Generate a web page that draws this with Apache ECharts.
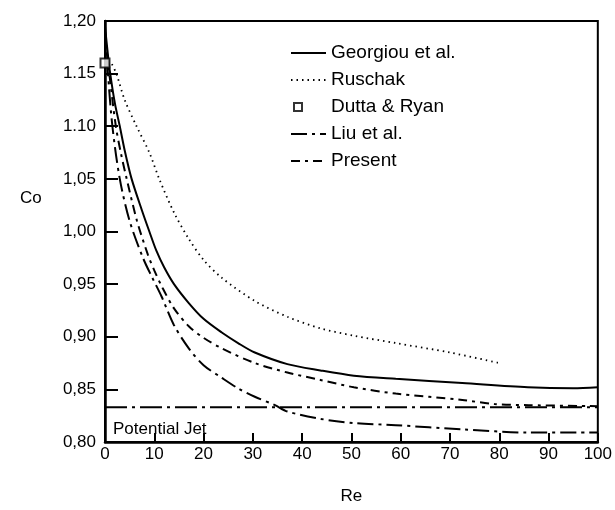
<!DOCTYPE html>
<html>
<head>
<meta charset="utf-8">
<script src="https://cdn.jsdelivr.net/npm/echarts@6/dist/echarts.min.js"></script>
<style>html,body{margin:0;padding:0;background:#fff}#c{width:615px;height:510px}</style>
</head>
<body>
<div id="c"></div>
<script>
// Data
var georgiou = [[0,1.195],[0.5,1.172],[1,1.152],[2,1.122],[3,1.100],[4,1.077],[5.4,1.050],[7.5,1.020],[9,1.000],[10.4,0.982],[12,0.966],[14,0.950],[17,0.932],[20,0.917],[23.7,0.904],[27,0.894],[30.4,0.885],[37,0.874],[43.7,0.868],[50.5,0.863],[59,0.860],[72.5,0.856],[85.8,0.852],[95,0.851],[100,0.852]];
var ruschak = [[1.4,1.159],[2.3,1.150],[4,1.125],[6.4,1.100],[9,1.075],[11,1.050],[14,1.018],[17,0.993],[20,0.973],[23.7,0.956],[30.4,0.934],[37,0.919],[43.7,0.908],[50.5,0.901],[59,0.894],[70,0.885],[80,0.875]];
var duttaRyan = [[0,1.160]];
var liu = [[0,1.190],[0.6,1.150],[1.5,1.100],[3,1.050],[5,1.010],[7.7,0.975],[9.5,0.957],[11.5,0.938],[14,0.911],[17,0.889],[20,0.873],[23.7,0.861],[27,0.851],[30.4,0.843],[34.5,0.835],[37,0.829],[43.7,0.822],[50.5,0.818],[59,0.816],[72.5,0.812],[85.8,0.809],[100,0.809]];
var present = [[0,1.190],[0.5,1.165],[1,1.145],[2.2,1.100],[3.2,1.075],[4.4,1.050],[6.5,1.010],[8.7,0.978],[10,0.963],[11.5,0.948],[14,0.927],[17,0.910],[20,0.899],[23.7,0.889],[30.4,0.875],[37,0.866],[43.7,0.859],[50.5,0.852],[59,0.846],[72.5,0.840],[79,0.836],[86,0.835],[100,0.834]];
var potentialJet = [[0,0.833],[100,0.833]];
var yTickLabels = {'0.8':'0,80','0.85':'0,85','0.9':'0,90','0.95':'0,95','1':'1,00','1.05':'1,05','1.1':'1.10','1.15':'1.15','1.2':'1,20'};
var xTickLabels = ['0','10','20','30','40','50','60','70','80','90','100'];

var FONT = 'Liberation Sans';
var hideSym = {color:'rgba(0,0,0,0)',borderWidth:0};
var chart = echarts.init(document.getElementById('c'), null, {renderer:'canvas'});
chart.setOption({
  animation:false,
  backgroundColor:'#fff',
  color:['#000'],
  grid:{left:105,right:11,top:21,bottom:63,show:true,borderColor:'#000',borderWidth:2,backgroundColor:'transparent'},
  legend:{
    orient:'vertical',left:285,top:38,itemWidth:35,itemHeight:14,itemGap:7,
    textStyle:{fontFamily:FONT,fontSize:19,color:'#000',lineHeight:20},
    data:[
      {name:'Georgiou et al.',itemStyle:hideSym},
      {name:'Ruschak',itemStyle:hideSym},
      {name:'Dutta & Ryan',icon:'path://M0,0M35,14M3,3h8v8h-8z',itemStyle:{color:'#fff',borderColor:'#000',borderWidth:2}},
      {name:'Liu et al.',itemStyle:hideSym},
      {name:'Present',itemStyle:hideSym}
    ]
  },
  xAxis:{type:'value',min:0,max:100,interval:10,
    name:'Re',nameLocation:'middle',nameGap:46,nameTextStyle:{fontFamily:FONT,fontSize:17,color:'#000'},
    axisLine:{lineStyle:{color:'#000',width:2.5}},
    axisTick:{inside:true,length:9,lineStyle:{color:'#000',width:2}},
    axisLabel:{fontFamily:FONT,fontSize:17,color:'#000',margin:4,formatter:function(v){return xTickLabels[Math.round(v/10)];}},
    splitLine:{show:false}},
  yAxis:{type:'value',min:0.8,max:1.2,interval:0.05,
    axisLine:{lineStyle:{color:'#000',width:2.5}},
    axisTick:{inside:true,length:13,lineStyle:{color:'#000',width:2}},
    axisLabel:{fontFamily:FONT,fontSize:17,color:'#000',margin:9,formatter:function(v){var k=String(+v.toFixed(2));return yTickLabels[k]||k;}},
    splitLine:{show:false}},
  graphic:[
    {type:'text',left:20,top:190,style:{text:'Co',font:'17px "Liberation Sans"',fill:'#000'}},
    {type:'text',left:113,top:421,style:{text:'Potential Jet',font:'17px "Liberation Sans"',fill:'#000'}}
  ],
  series:[
    {name:'Georgiou et al.',type:'line',data:georgiou,smooth:0.3,showSymbol:false,symbol:'none',itemStyle:{color:'#000'},lineStyle:{color:'#000',width:2}},
    {name:'Ruschak',type:'line',data:ruschak,smooth:0.3,showSymbol:false,symbol:'none',itemStyle:{color:'#000'},lineStyle:{color:'#000',width:1.8,type:[1.5,4]}},
    {name:'Dutta & Ryan',type:'scatter',data:duttaRyan,symbol:'rect',symbolSize:9,clip:false,z:5,itemStyle:{color:'#fff',borderColor:'#000',borderWidth:2}},
    {name:'Liu et al.',type:'line',data:liu,smooth:0.3,showSymbol:false,symbol:'none',itemStyle:{color:'#000'},lineStyle:{color:'#000',width:2,type:[16,5,3,5]}},
    {name:'Present',type:'line',data:present,smooth:0.3,showSymbol:false,symbol:'none',itemStyle:{color:'#000'},lineStyle:{color:'#000',width:2,type:[9,5,3,5]}},
    {name:'Potential Jet',type:'line',data:potentialJet,showSymbol:false,symbol:'none',itemStyle:{color:'#000'},lineStyle:{color:'#000',width:2,type:[22,5,3,5]}}
  ]
});
</script>
</body>
</html>
